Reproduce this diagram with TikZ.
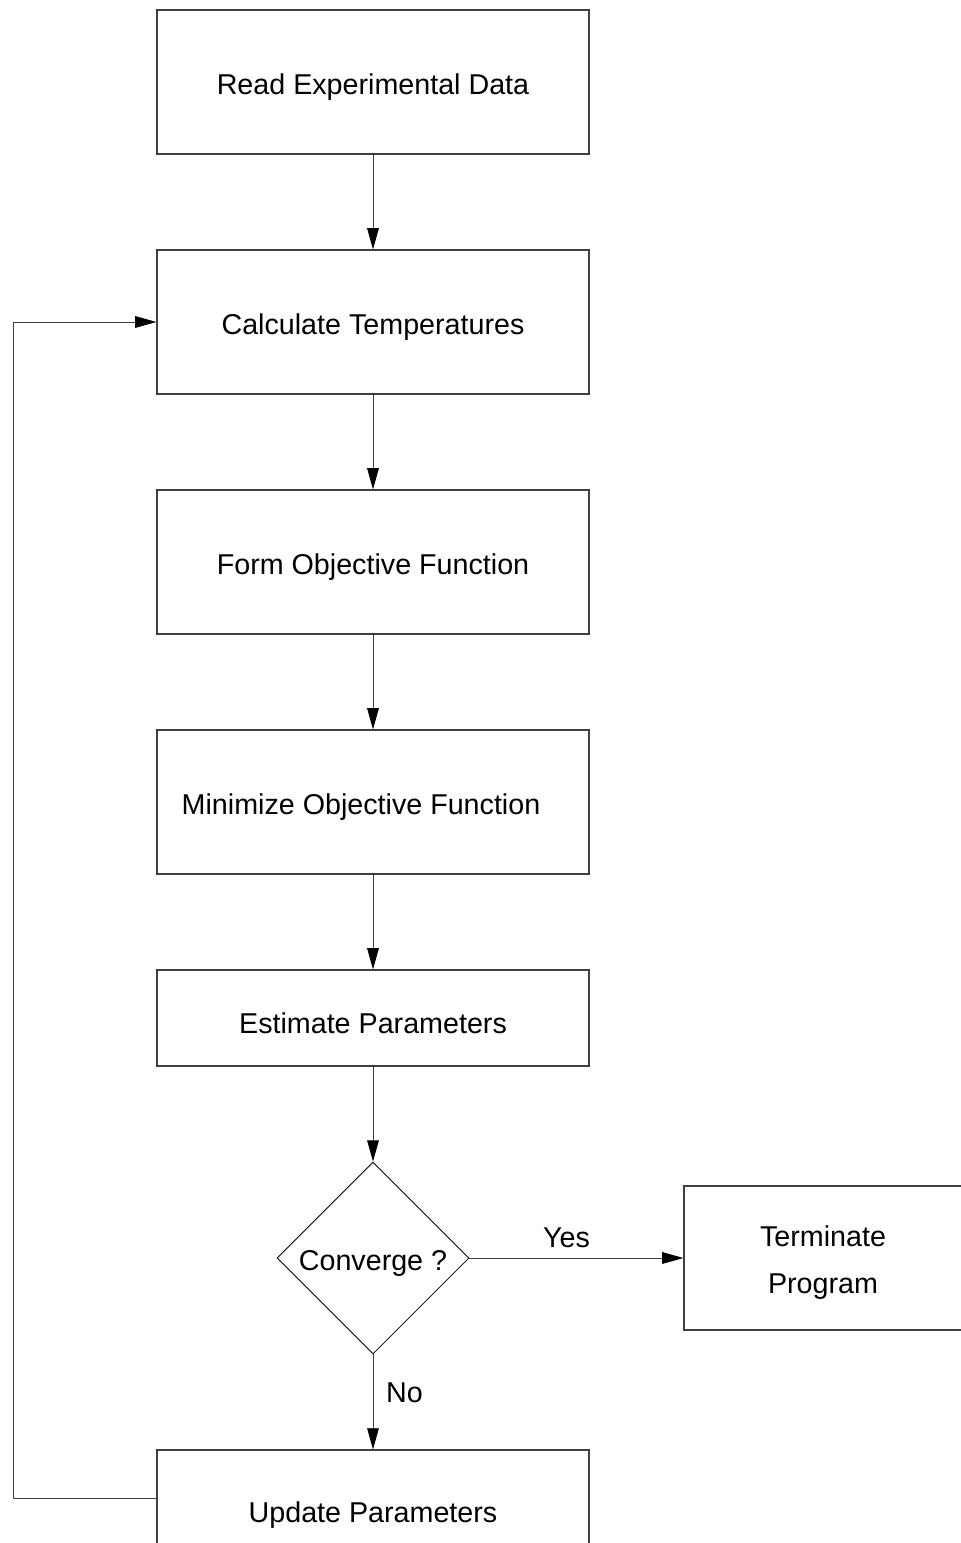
\documentclass[tikz,border=0pt]{standalone}
\usepackage{fontspec}
\setmainfont{Liberation Sans}
\usetikzlibrary{shapes.geometric,arrows.meta}
\tikzset{
  stepbox/.style={draw=black!75,line width=0.8pt,minimum width=10.8cm,minimum height=3.6cm,inner sep=0pt,text height=0.77cm},
  flow/.style={-{Triangle[length=0.53cm,width=0.29cm,color=black]},draw=black!75,line width=0.7pt},
}
\begin{document}
\begin{tikzpicture}[font=\fontsize{20.4}{33.4}\selectfont]
  \useasboundingbox (0,0) rectangle (24.025,-38.575);
  \clip (0,0) rectangle (24.025,-38.575);
  % Main chain

  \node[stepbox] (read) at (9.325,-2.05) {Read Experimental Data};

  \node[stepbox] (calc) at (9.325,-8.05) {Calculate Temperatures};

  \node[stepbox] (form) at (9.325,-14.05) {Form Objective Function};

  \node[stepbox] (mini) at (9.325,-20.05) {\hspace*{-0.6cm}Minimize Objective Function};

  \node[stepbox,minimum height=2.4cm] (est) at (9.325,-25.45) {Estimate Parameters};

  \node[draw,diamond,line width=0.6pt,minimum width=4.8cm,minimum height=4.8cm,inner sep=0pt,text height=0.77cm] (conv) at (9.325,-31.45) {Converge ?};

  \node[stepbox,minimum width=6.95cm,align=center,text height=] (term) at (20.575,-31.45) {\rule{0pt}{0.77cm}Terminate\\Program};

  \node[stepbox,minimum height=2.4cm,text height=1.37cm] (upd) at (9.325,-37.45) {Update Parameters};

  \draw[flow] (read) to (calc);
  \draw[flow] (calc) to (form);
  \draw[flow] (form) to (mini);
  \draw[flow] (mini) to (est);
  \draw[flow] (est) to (conv.north);
  \draw[flow] (conv.east) to node[above,yshift=0.125cm,xshift=-0.25cm] {Yes} (term);
  \draw[flow] (conv.south) to node[right,pos=0.4,xshift=0.2cm] {No} (upd);

  % Loop back
  \coordinate (back) at (0.325,0);
  \draw[flow] (upd.west) -- (upd.west -| back) -- (calc.west -| back) -- (calc.west);

\end{tikzpicture}
\end{document}
